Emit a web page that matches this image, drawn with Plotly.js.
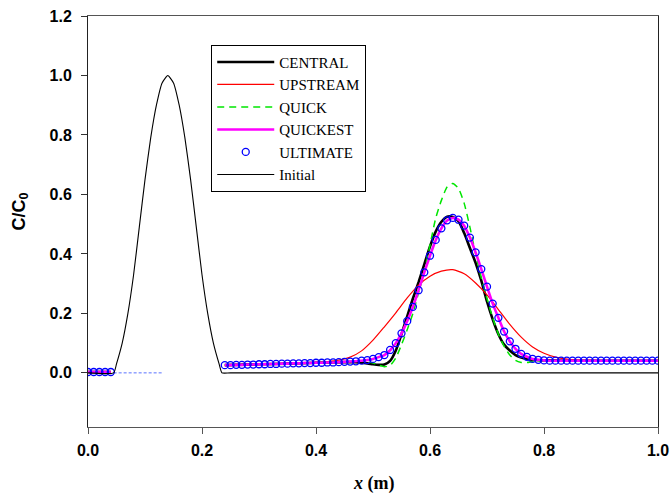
<!DOCTYPE html>
<html>
<head>
<meta charset="utf-8">
<script src="https://cdn.plot.ly/plotly-3.0.1.min.js"></script>
<style>html,body{margin:0;padding:0;background:#fff;}#chart{width:670px;height:493px;}</style>
</head>
<body>
<div id="chart"></div>
<script>
// Grid of computed nodes (ULTIMATE / QUICKEST), gap at 0.14
var xGrid = [0.00,0.01,0.02,0.03,0.04,0.14,
  0.24,0.25,0.26,0.27,0.28,0.29,0.30,0.31,0.32,0.33,0.34,0.35,0.36,0.37,0.38,0.39,
  0.40,0.41,0.42,0.43,0.44,0.45,0.46,0.47,0.48,0.49,0.50,0.51,0.52,0.53,0.54,0.55,
  0.56,0.57,0.58,0.59,0.60,0.61,0.62,0.63,0.64,0.65,0.66,0.67,0.68,0.69,0.70,0.71,
  0.72,0.73,0.74,0.75,0.76,0.77,0.78,0.79,0.80,0.81,0.82,0.83,0.84,0.85,0.86,0.87,
  0.88,0.89,0.90,0.91,0.92,0.93,0.94,0.95,0.96,0.97,0.98,0.99,1.00];

var ultimateY = [0.003,0.003,0.003,0.003,0.003,null,
  0.026,0.026,0.027,0.027,0.028,0.028,0.029,0.029,0.030,0.030,0.031,0.031,0.032,0.032,0.033,0.033,
  0.034,0.034,0.035,0.035,0.036,0.037,0.038,0.039,0.041,0.043,0.047,0.053,0.060,0.077,0.100,0.133,
  0.174,0.222,0.278,0.338,0.394,0.447,0.486,0.513,0.521,0.515,0.495,0.455,0.405,0.349,0.290,0.233,
  0.185,0.139,0.106,0.081,0.064,0.054,0.047,0.044,0.042,0.041,0.041,0.041,0.041,0.041,0.041,0.041,
  0.041,0.041,0.041,0.041,0.041,0.041,0.041,0.041,0.041,0.041,0.041,0.041,0.041];

var quickestY = [0.003,0.003,0.003,0.003,0.003,null,
  0.026,0.026,0.027,0.027,0.028,0.028,0.029,0.029,0.030,0.030,0.031,0.031,0.032,0.032,0.033,0.033,
  0.034,0.034,0.035,0.035,0.036,0.037,0.038,0.039,0.041,0.043,0.047,0.053,0.060,0.076,0.100,0.133,
  0.174,0.222,0.278,0.338,0.394,0.446,0.486,0.512,0.521,0.515,0.495,0.455,0.405,0.349,0.290,0.233,
  0.185,0.139,0.106,0.081,0.064,0.054,0.047,0.044,0.042,0.041,0.041,0.041,0.041,0.041,0.041,0.041,
  0.041,0.041,0.041,0.041,0.041,0.041,0.041,0.041,0.041,0.041,0.041,0.041,0.041];

var centralX = [0.00,0.04,0.14,0.24,0.30,0.35,0.40,0.45,0.47,0.49,0.50,0.51,0.52,0.53,0.54,0.55,0.56,
  0.57,0.58,0.59,0.60,0.61,0.62,0.63,0.64,0.65,0.66,0.67,0.68,0.69,0.70,0.71,0.72,0.73,0.74,0.75,
  0.76,0.77,0.78,0.80,0.85,1.00];
var centralY = [0.003,0.003,null,0.026,0.029,0.031,0.034,0.036,0.036,0.032,0.029,0.027,0.028,0.040,0.075,0.130,0.190,
  0.250,0.305,0.365,0.425,0.475,0.508,0.525,0.524,0.510,0.470,0.420,0.370,0.310,0.240,0.180,0.130,0.095,0.075,0.060,
  0.052,0.047,0.044,0.042,0.041,0.041];

var upstreamX = [0.00,0.04,0.14,0.24,0.30,0.35,0.38,0.40,0.42,0.44,0.46,0.48,0.50,0.52,0.54,0.56,0.58,0.60,0.62,
  0.64,0.66,0.68,0.70,0.72,0.74,0.76,0.78,0.80,0.82,0.84,0.86,0.88,0.90,1.00];
var upstreamY = [0.003,0.003,null,0.026,0.029,0.031,0.033,0.035,0.038,0.043,0.053,0.074,0.110,0.155,0.202,0.252,0.295,0.325,0.342,
  0.347,0.333,0.302,0.262,0.213,0.163,0.120,0.087,0.066,0.053,0.046,0.043,0.042,0.041,0.041];

var quickX = [0.00,0.04,0.14,0.24,0.30,0.35,0.40,0.45,0.48,0.50,0.51,0.52,0.53,0.54,0.55,0.56,0.57,0.58,0.59,
  0.60,0.61,0.62,0.63,0.64,0.65,0.66,0.67,0.68,0.69,0.70,0.71,0.72,0.73,0.74,0.75,0.76,0.77,0.78,0.79,0.80,0.85,1.00];
var quickY = [0.003,0.003,null,0.026,0.029,0.031,0.034,0.037,0.040,0.033,0.026,0.021,0.025,0.050,0.095,0.145,0.200,0.270,0.340,
  0.430,0.520,0.580,0.625,0.637,0.620,0.570,0.490,0.400,0.320,0.250,0.185,0.130,0.090,0.060,0.042,0.035,0.035,0.038,0.040,0.041,0.041,0.041];

var initialX = [0.00,0.045,0.05,0.06,0.07,0.08,0.09,0.10,0.11,0.12,0.13,0.14,0.15,0.16,0.17,0.18,0.19,0.20,
  0.21,0.22,0.23,0.235,0.25,1.00];
var initialY = [0,0,0.03,0.10,0.20,0.33,0.49,0.65,0.79,0.90,0.975,1.0,0.975,0.90,0.79,0.65,0.49,0.33,
  0.20,0.10,0.03,0,0,0];

var tailX = [0.045,0.13];
var tailY = [0.0,0.0];

var xTicks = [0,0.2,0.4,0.6,0.8,1.0];
var yTicks = [0,0.2,0.4,0.6,0.8,1.0,1.2];

var traces = [
  {x:centralX, y:centralY, name:'CENTRAL', mode:'lines', line:{color:'#000000', width:2.6, shape:'spline', smoothing:0.6}},
  {x:upstreamX, y:upstreamY, name:'UPSTREAM', mode:'lines', line:{color:'#ff0000', width:1.2, shape:'spline', smoothing:0.6}},
  {x:quickX, y:quickY, name:'QUICK', mode:'lines', line:{color:'#00e600', width:1.5, dash:'7px,5px', shape:'spline', smoothing:0.6}},
  {x:xGrid, y:quickestY, name:'QUICKEST', mode:'lines', line:{color:'#ff00ff', width:2.6, shape:'spline', smoothing:0.6}},
  {x:tailX, y:tailY, name:'tail', mode:'lines', showlegend:false, line:{color:'#2244ff', width:1, dash:'3px,2px'}, opacity:0.75},
  {x:xGrid, y:ultimateY, name:'ULTIMATE', mode:'markers', marker:{symbol:'circle-open', size:7, color:'#0000ff', line:{width:1.3, color:'#0000ff'}}},
  {x:initialX, y:initialY, name:'Initial', mode:'lines', line:{color:'#000000', width:1.1, shape:'spline', smoothing:0.5}}
];

var tickFont = {family:'Liberation Sans, Arial, sans-serif', size:16, color:'#000', weight:'bold'};

var layout = {
  width:670, height:493,
  margin:{l:88, r:12, t:16, b:66},
  paper_bgcolor:'#fff', plot_bgcolor:'#fff',
  showlegend:true,
  legend:{x:0.2162, y:0.9302, xanchor:'left', yanchor:'top', bgcolor:'#fff',
    bordercolor:'#000', borderwidth:1, itemwidth:57,
    font:{family:'Liberation Serif, Times New Roman, serif', size:15, color:'#000'},
    traceorder:'normal'},
  xaxis:{range:[0,1], tickvals:xTicks, tickformat:'.1f', showgrid:false, zeroline:false,
    showline:true, mirror:true, linecolor:'#555', linewidth:1, ticks:'outside', ticklen:6,
    tickcolor:'#555', tickwidth:1, tickfont:tickFont, ticklabelstandoff:3},
  yaxis:{range:[-0.182,1.2], tickvals:yTicks, tickformat:'.1f', showgrid:false, zeroline:false,
    showline:true, mirror:true, linecolor:'#222', linewidth:1, ticks:'outside', ticklen:6,
    tickcolor:'#333', tickwidth:1, tickfont:tickFont, ticklabelstandoff:6},
  annotations:[
    {xref:'paper', yref:'paper', x:0.5, y:0, xanchor:'center', yanchor:'middle', yshift:-56,
     text:'<b><i>x</i> (m)</b>', showarrow:false,
     font:{family:'Liberation Serif, Times New Roman, serif', size:18, color:'#000'}},
    {xref:'paper', yref:'paper', x:0, y:0.5, xanchor:'center', yanchor:'middle', xshift:-68, yshift:10,
     textangle:-90, text:'<b>C/C<sub>0</sub></b>', showarrow:false,
     font:{family:'Liberation Sans, Arial, sans-serif', size:18, color:'#000'}}
  ]
};

Plotly.newPlot('chart', traces, layout, {displayModeBar:false, staticPlot:true});
</script>
</body>
</html>
